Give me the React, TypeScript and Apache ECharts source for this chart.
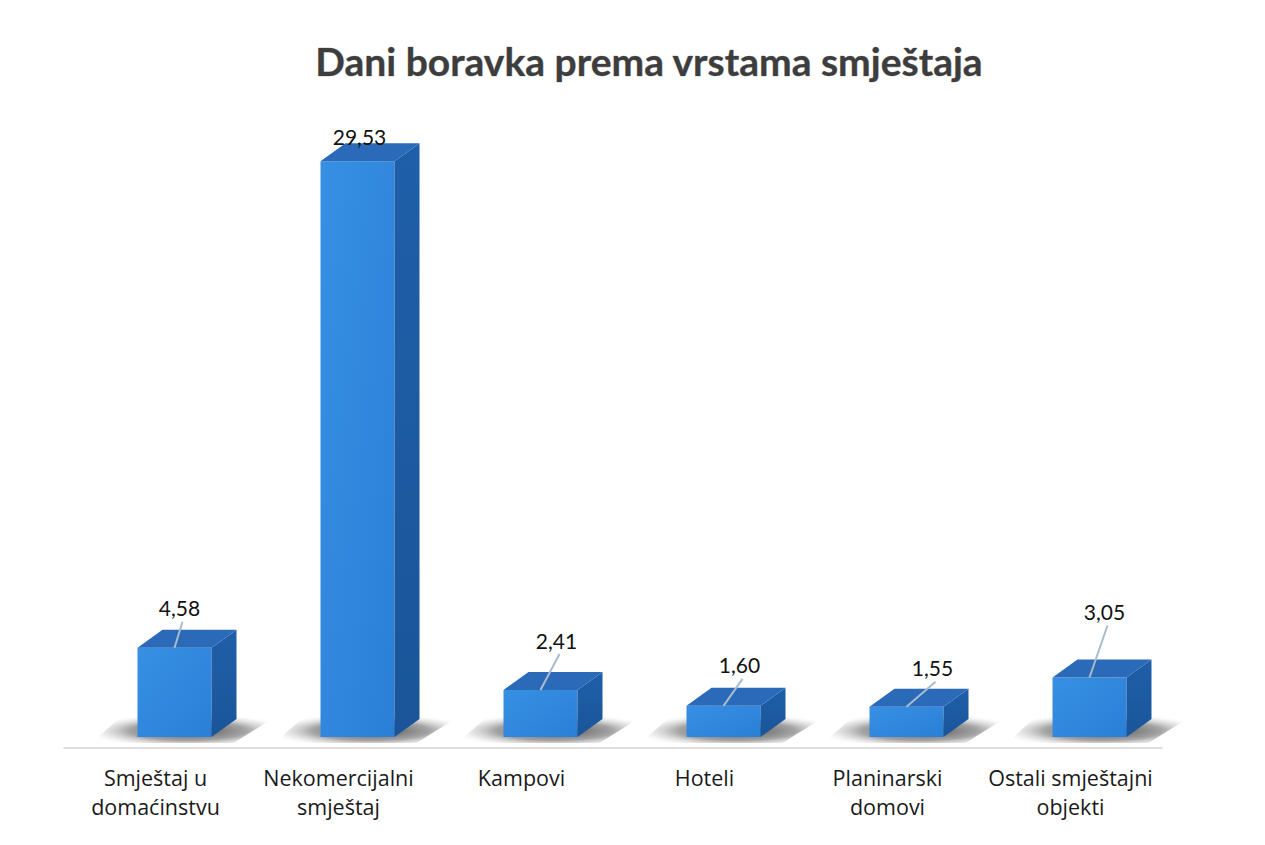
import React, { useEffect, useRef } from "react";
import * as echarts from "echarts";

const categories = [
  "Smještaj u\ndomaćinstvu",
  "Nekomercijalni\nsmještaj",
  "Kampovi",
  "Hoteli",
  "Planinarski\ndomovi",
  "Ostali smještajni\nobjekti",
];
const values = [4.58, 29.53, 2.41, 1.6, 1.55, 3.05];
const valueLabels = values.map((v) => v.toFixed(2).replace(".", ","));
const titleText = "Dani boravka prema vrstama smještaja";

// layout of the hand-placed data labels (relative to the bar's front-top centre)
const LABEL_DX = [5, 2, 16, 16, 26, 15];
const LABEL_LIFT = [40, 25, 50, 41, 39, 66];

const FONT = "Lato, 'Open Sans', 'Noto Sans', sans-serif";
const AXIS_FONT = "'Open Sans', 'Noto Sans', sans-serif";
const BAR_W = 74;
const BAR_SHIFT = 19;
const DEPTH_X = 25;
const DEPTH_Y = 18;
const FLOOR = 11;

export default function App() {
  const ref = useRef<HTMLDivElement>(null);
  useEffect(() => {
    if (!ref.current) return;
    const chart = echarts.init(ref.current, null, { renderer: "svg" });
    const renderItem = (params: any, api: any) => {
      const i = api.value(0);
      const v = api.value(1);
      const p0 = api.coord([i, 0]);
      const p1 = api.coord([i, v]);
      const base = p0[1] - FLOOR;
      const top = p1[1] - FLOOR;
      const cx = p0[0] + BAR_SHIFT;
      const fl = cx - BAR_W / 2;
      const fr = cx + BAR_W / 2;
      const children: any[] = [
        {
          type: "polygon",
          shape: {
            points: [
              [fl - 46, base + 6],
              [fr + 22, base + 6],
              [fr + DEPTH_X + 48, base - DEPTH_Y - 8],
              [fl - 10, base - DEPTH_Y - 8],
            ],
          },
          style: {
            fill: new echarts.graphic.RadialGradient(0.5, 0.62, 0.55, [
              { offset: 0, color: "rgba(40,40,40,0.85)" },
              { offset: 0.55, color: "rgba(90,90,90,0.55)" },
              { offset: 0.8, color: "rgba(170,170,170,0.25)" },
              { offset: 1, color: "rgba(255,255,255,0)" },
            ]),
          },
        },
        {
          type: "rect",
          shape: { x: fl, y: top, width: BAR_W, height: base - top },
          style: {
            fill: new echarts.graphic.LinearGradient(0, 0, 1, 1, [
              { offset: 0, color: "#3790e4" },
              { offset: 1, color: "#2a7fd6" },
            ]),
          },
        },
        {
          type: "polygon",
          shape: {
            points: [
              [fr, top],
              [fr + DEPTH_X, top - DEPTH_Y],
              [fr + DEPTH_X, base - DEPTH_Y],
              [fr, base],
            ],
          },
          style: {
            fill: new echarts.graphic.LinearGradient(0, 0, 0, 1, [
              { offset: 0, color: "#1f5fa9" },
              { offset: 1, color: "#1a5599" },
            ]),
          },
        },
        {
          type: "polygon",
          shape: {
            points: [
              [fl, top],
              [fl + DEPTH_X, top - DEPTH_Y],
              [fr + DEPTH_X, top - DEPTH_Y],
              [fr, top],
            ],
          },
          style: { fill: "#2a6ab8" },
        },
      ];
      const lx = cx + LABEL_DX[i];
      const ly = top - LABEL_LIFT[i];
      if (LABEL_LIFT[i] > 30) {
        children.push({
          type: "line",
          shape: { x1: lx + 3, y1: ly + 14, x2: cx, y2: top },
          style: { stroke: "#a9bccd", lineWidth: 2 },
        });
      }
      children.push({
        type: "text",
        style: {
          text: valueLabels[i],
          x: lx,
          y: ly,
          align: "center",
          verticalAlign: "middle",
          font: `21px ${FONT}`,
          fill: "#111111",
        },
      });
      return { type: "group", children };
    };

    chart.setOption({
      animation: false,
      backgroundColor: "#ffffff",
      grid: { left: 64, right: 1265 - 64 - 1098, top: 163, bottom: 97 },
      xAxis: {
        type: "category",
        data: categories,
        axisLine: { show: true, lineStyle: { color: "#d4d4d4", width: 1.5 } },
        axisTick: { show: false },
        axisLabel: {
          interval: 0,
          margin: 15,
          color: "#1a1a1a",
          fontFamily: AXIS_FONT,
          fontSize: 21.5,
          lineHeight: 29,
        },
      },
      yAxis: {
        type: "value",
        min: 0,
        max: 30,
        show: false,
        splitLine: { show: false },
      },
      graphic: [
        {
          type: "text",
          x: 649,
          y: 61,
          style: {
            text: titleText,
            align: "center",
            verticalAlign: "middle",
            font: `bold 39px ${FONT}`,
            fill: "#3d3d3d",
            stroke: "#9a9a9a",
            lineWidth: 0.6,
          },
        },
      ],
      series: [
        {
          type: "custom",
          renderItem,
          clip: false,
          encode: { x: 0, y: 1 },
          data: values.map((v, i) => [i, v]),
        },
      ],
    });
    return () => chart.dispose();
  }, []);
  return (
    <div
      ref={ref}
      style={{ position: "fixed", left: 0, top: 0, width: 1265, height: 845, background: "#fff" }}
    />
  );
}
